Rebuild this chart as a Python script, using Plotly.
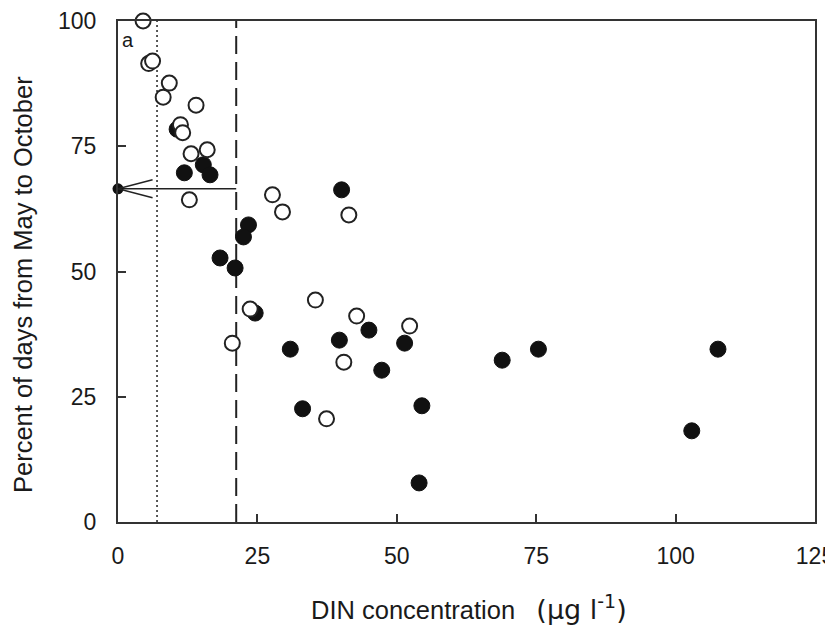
import plotly.graph_objects as go

# Open circles
open_x = [4.5, 5.5, 6.2, 9.2, 8.1, 14.0, 11.2, 11.6, 13.1, 16.0, 12.8,
          27.7, 29.5, 41.4, 35.4, 23.7, 42.8, 52.3, 20.5, 40.5, 37.4]
open_y = [100.0, 91.5, 92.0, 87.6, 84.8, 83.2, 79.3, 77.7, 73.5, 74.3, 64.3,
          65.3, 61.9, 61.3, 44.3, 42.5, 41.1, 39.1, 35.7, 31.9, 20.6]

# Filled circles
filled_x = [10.6, 11.9, 15.3, 16.5, 40.1, 23.4, 22.5, 18.3, 21.0, 24.6, 45.0,
            39.7, 51.4, 30.9, 47.3, 33.1, 54.5, 68.9, 75.4, 107.6, 102.9, 54.0]
filled_y = [78.4, 69.7, 71.3, 69.3, 66.3, 59.3, 56.9, 52.7, 50.7, 41.7, 38.3,
            36.3, 35.7, 34.5, 30.3, 22.6, 23.2, 32.3, 34.5, 34.5, 18.2, 7.8]

# Reference values
threshold_low = 7.0      # dotted line
threshold_high = 21.2    # dashed line
target_pct = 66.5        # horizontal arrow level

x_ticks = [0, 25, 50, 75, 100, 125]
y_ticks = [0, 25, 50, 75, 100]

FONT = "Liberation Sans, Arial, sans-serif"
INK = "#1a1a1a"

fig = go.Figure()

fig.add_trace(go.Scatter(
    x=filled_x, y=filled_y, mode="markers", cliponaxis=False,
    marker=dict(size=16, color="#111111", line=dict(color="#111111", width=1)),
    showlegend=False))
fig.add_trace(go.Scatter(
    x=open_x, y=open_y, mode="markers", cliponaxis=False,
    marker=dict(size=15, color="white", line=dict(color="#222222", width=2)),
    showlegend=False))
fig.add_trace(go.Scatter(
    x=[0], y=[target_pct], mode="markers", cliponaxis=False,
    marker=dict(size=11, color="#111111"), showlegend=False))

line_col = "#222222"
fig.add_shape(type="line", x0=threshold_low, x1=threshold_low, y0=0, y1=100,
              line=dict(color=line_col, width=1.5, dash="2px,3px"), layer="below")
fig.add_shape(type="line", x0=threshold_high, x1=threshold_high, y0=0, y1=100,
              line=dict(color=line_col, width=2, dash="18px,8px"), layer="below")
fig.add_shape(type="line", x0=0, x1=threshold_high, y0=target_pct, y1=target_pct,
              line=dict(color=line_col, width=1.5), layer="below")
fig.add_shape(type="line", x0=0, x1=6.2, y0=target_pct, y1=target_pct + 1.8,
              line=dict(color=line_col, width=1.5))
fig.add_shape(type="line", x0=0, x1=6.2, y0=target_pct, y1=target_pct - 1.8,
              line=dict(color=line_col, width=1.5))

fig.add_annotation(x=1.8, y=96.3, xref="x", yref="y", text="a", showarrow=False,
                   font=dict(family=FONT, size=20, color=INK))

fig.add_annotation(xref="paper", yref="paper", x=0, y=0.473, xshift=-95,
                   xanchor="center", yanchor="middle",
                   text="Percent of days from May to October", textangle=-90,
                   showarrow=False, font=dict(family=FONT, size=25.5, color=INK))

fig.add_annotation(xref="paper", yref="paper", x=0.5, y=0, yshift=-85, xshift=2,
                   xanchor="center", yanchor="middle",
                   text="DIN concentration &nbsp; <span style='font-family:DejaVu Sans, Verdana, sans-serif;font-size:27px'>(µg l<sup>-1</sup>)</span>",
                   showarrow=False, font=dict(family=FONT, size=25.5, color=INK))

axis_common = dict(showgrid=False, zeroline=False, showline=True, mirror=True,
                   automargin=False, ticklabeloverflow="allow",
                   linecolor="#333333", linewidth=2, ticks="inside", ticklen=8,
                   tickwidth=1.5, tickcolor="#333333",
                   tickfont=dict(family=FONT, size=23, color=INK))

fig.update_layout(
    width=833, height=628,
    margin=dict(l=110, r=26, t=13, b=114, autoexpand=False),
    paper_bgcolor="white", plot_bgcolor="white",
    xaxis=dict(range=[0, 125], tickvals=x_ticks, ticktext=[str(v) for v in x_ticks],
               ticklabelstandoff=12, **axis_common),
    yaxis=dict(range=[0, 100], tickvals=y_ticks, ticktext=[str(v) for v in y_ticks],
               ticklabelstandoff=15, **axis_common),
)

fig.write_html("out.html")
